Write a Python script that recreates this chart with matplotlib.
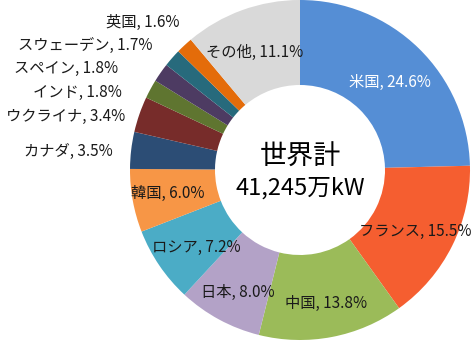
import matplotlib.pyplot as plt

plt.rcParams['font.family'] = ['Noto Sans CJK JP', 'DejaVu Sans']

# 国別シェア（%）、12時の位置から時計回り
countries = ["米国", "フランス", "中国", "日本", "ロシア", "韓国", "カナダ",
             "ウクライナ", "インド", "スペイン", "スウェーデン", "英国", "その他"]
shares = [24.6, 15.5, 13.8, 8.0, 7.2, 6.0, 3.5, 3.4, 1.8, 1.8, 1.7, 1.6, 11.1]
colors = ["#558ED5", "#F55E30", "#9BBB59", "#B3A2C7", "#4BACC6", "#F79646",
          "#2C4D75", "#772C2A", "#5F7530", "#4D3B62", "#276A7C", "#E46C0A",
          "#D9D9D9"]
total_label = ["世界計", "41,245万kW"]

W, H = 475, 345
cx, cy, r = 300, 170, 170


def to_data(px, py):
    return (px - cx) / r, (cy - py) / r


fig = plt.figure(figsize=(W / 100, H / 100), dpi=100)
ax = fig.add_axes([(cx - r) / W, (H - cy - r) / H, 2 * r / W, 2 * r / H])
ax.pie(shares, colors=colors, startangle=90, counterclock=False, radius=1.0,
       wedgeprops=dict(width=0.5, linewidth=0))
ax.set_xlim(-1, 1)
ax.set_ylim(-1, 1)
ax.set_aspect("equal")
ax.axis("off")

labels = [f"{c}, {v:.1f}%" for c, v in zip(countries, shares)]

# ラベル位置（中心, ピクセル）: 大きいセグメントは内側
inside = {
    "米国": (390, 82),
    "フランス": (415, 231),
    "中国": (326, 303),
    "日本": (238, 292),
    "ロシア": (196, 247),
    "韓国": (168, 193),
    "その他": (255, 52),
}
# 小さいセグメントは左側に右揃え（右端, 中心y）
outside = {
    "カナダ": (113, 151),
    "ウクライナ": (125, 116),
    "インド": (122, 92),
    "スペイン": (118, 68),
    "スウェーデン": (152, 45),
    "英国": (180, 22),
}

for c, lab in zip(countries, labels):
    if c in inside:
        x, y = to_data(*inside[c])
        col = "white" if c == "米国" else "#1a1a1a"
        ax.text(x, y, lab, ha="center", va="center", fontsize=11, color=col,
                clip_on=False)
    else:
        x, y = to_data(*outside[c])
        ax.text(x, y, lab, ha="right", va="center", fontsize=11,
                color="#1a1a1a", clip_on=False)

x, y = to_data(cx, 157)
ax.text(x, y, total_label[0], ha="center", va="center", fontsize=19.5,
        color="black")
x, y = to_data(cx, 188)
ax.text(x, y, total_label[1], ha="center", va="center", fontsize=17,
        color="black")

fig.savefig("out.png", dpi=100)
